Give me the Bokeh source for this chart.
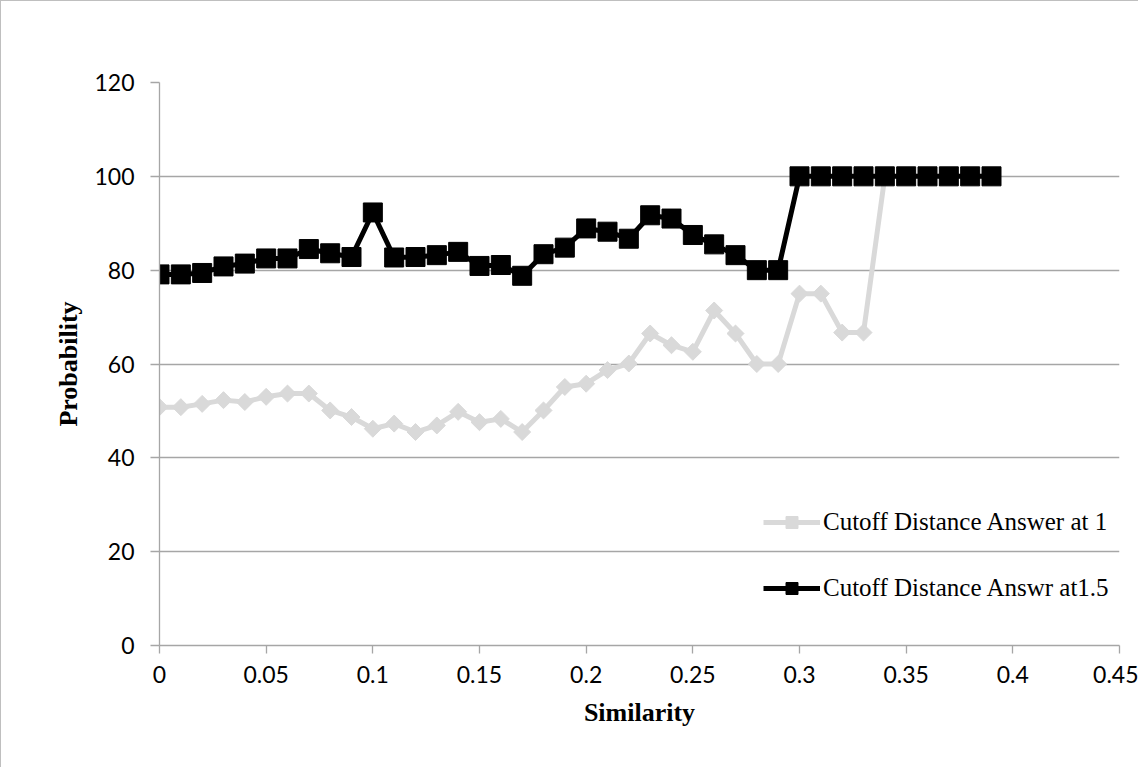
import numpy as np
from bokeh.plotting import figure
from bokeh.models import FixedTicker, CustomJSTickFormatter, Legend, LegendItem, ColumnDataSource
from bokeh.embed import file_html
from bokeh.resources import INLINE

# ---- data ----
similarity = [0.00, 0.01, 0.02, 0.03, 0.04, 0.05, 0.06, 0.07, 0.08, 0.09,
              0.10, 0.11, 0.12, 0.13, 0.14, 0.15, 0.16, 0.17, 0.18, 0.19,
              0.20, 0.21, 0.22, 0.23, 0.24, 0.25, 0.26, 0.27, 0.28, 0.29,
              0.30, 0.31, 0.32, 0.33, 0.34, 0.35, 0.36, 0.37, 0.38, 0.39]
answer_at_1 = [50.8, 50.8, 51.5, 52.3, 51.9, 53.0, 53.7, 53.7, 50.1, 48.7,
               46.2, 47.3, 45.5, 46.9, 49.8, 47.6, 48.3, 45.5, 50.1, 55.1,
               55.8, 58.7, 60.1, 66.5, 64.0, 62.6, 71.4, 66.5, 60.0, 60.0,
               75.0, 75.0, 66.7, 66.7, 100, 100, 100, 100, 100, 100]
answer_at_15 = [79.1, 79.1, 79.4, 80.8, 81.4, 82.5, 82.5, 84.5, 83.6, 82.8,
                92.3, 82.7, 82.8, 83.2, 83.9, 80.9, 81.1, 78.8, 83.4, 84.8,
                88.9, 88.2, 86.7, 91.7, 91.0, 87.5, 85.5, 83.2, 80.0, 80.0,
                100, 100, 100, 100, 100, 100, 100, 100, 100, 100]
x_ticks = [0, 0.05, 0.1, 0.15, 0.2, 0.25, 0.3, 0.35, 0.4, 0.45]
y_ticks = [0, 20, 40, 60, 80, 100, 120]
series_names = ["Cutoff Distance Answer at 1", "Cutoff Distance Answr at1.5"]

W, H = 1138, 767
p = figure(width=W, height=H, output_backend="svg", toolbar_location=None,
           x_range=(0, 0.45), y_range=(0, 120),
           min_border_left=158, min_border_right=20,
           min_border_top=81, min_border_bottom=123)
p.styles = {"border-top": "1px solid #bfbfbf", "border-left": "1px solid #bfbfbf"}
p.outline_line_color = None
p.background_fill_color = "white"
p.border_fill_color = "white"

grid_col = "#a6a6a6"
p.xgrid.grid_line_color = None
p.ygrid.grid_line_color = grid_col
p.ygrid.grid_line_width = 1.3
p.ygrid.ticker = FixedTicker(ticks=y_ticks)

src1 = ColumnDataSource(dict(x=similarity, y=answer_at_1))
src2 = ColumnDataSource(dict(x=similarity, y=answer_at_15))

l1 = p.line("x", "y", source=src1, line_color="#d9d9d9", line_width=5)
m1 = p.scatter("x", "y", source=src1, marker="square", angle=np.pi / 4, size=12,
               fill_color="#d9d9d9", line_color="#d9d9d9")
l2 = p.line("x", "y", source=src2, line_color="black", line_width=5)
m2 = p.scatter("x", "y", source=src2, marker="square", size=19,
               fill_color="black", line_color="black")

fmt = CustomJSTickFormatter(code="return String(+tick.toFixed(2));")
for ax in (p.xaxis[0], p.yaxis[0]):
    ax.axis_line_color = grid_col
    ax.axis_line_width = 1.3
    ax.major_tick_line_color = grid_col
    ax.major_tick_line_width = 1.3
    ax.major_tick_in = 0
    ax.minor_tick_line_color = None
    ax.major_label_text_font = "Lato"
    ax.major_label_text_font_size = "23px"
    ax.major_label_text_color = "black"
    ax.axis_label_text_font = "Liberation Serif"
    ax.axis_label_text_font_style = "bold"
    ax.axis_label_text_font_size = "26px"
    ax.axis_label_text_color = "black"

p.xaxis.ticker = FixedTicker(ticks=x_ticks)
p.xaxis.formatter = fmt
p.xaxis.major_tick_out = 8
p.xaxis.major_label_standoff = 12
p.xaxis.axis_label = "Similarity"
p.xaxis.axis_label_standoff = 12

p.yaxis.ticker = FixedTicker(ticks=y_ticks)
p.yaxis.major_tick_out = 9
p.yaxis.major_label_standoff = 16
p.yaxis.axis_label = "Probability"
p.yaxis.axis_label_standoff = 8

legend = Legend(items=[LegendItem(label=series_names[0], renderers=[l1, m1]),
                       LegendItem(label=series_names[1], renderers=[l2, m2])],
                location=(604, 42), orientation="vertical")
legend.border_line_color = None
legend.background_fill_alpha = 0
legend.padding = 0
legend.margin = 0
legend.glyph_width = 57
legend.glyph_height = 30
legend.label_height = 30
legend.spacing = 36
legend.label_standoff = 3
legend.label_text_font = "Liberation Serif"
legend.label_text_font_size = "25px"
legend.label_text_color = "black"
p.add_layout(legend, "center")

open("out.html", "w").write(file_html(p, INLINE))
